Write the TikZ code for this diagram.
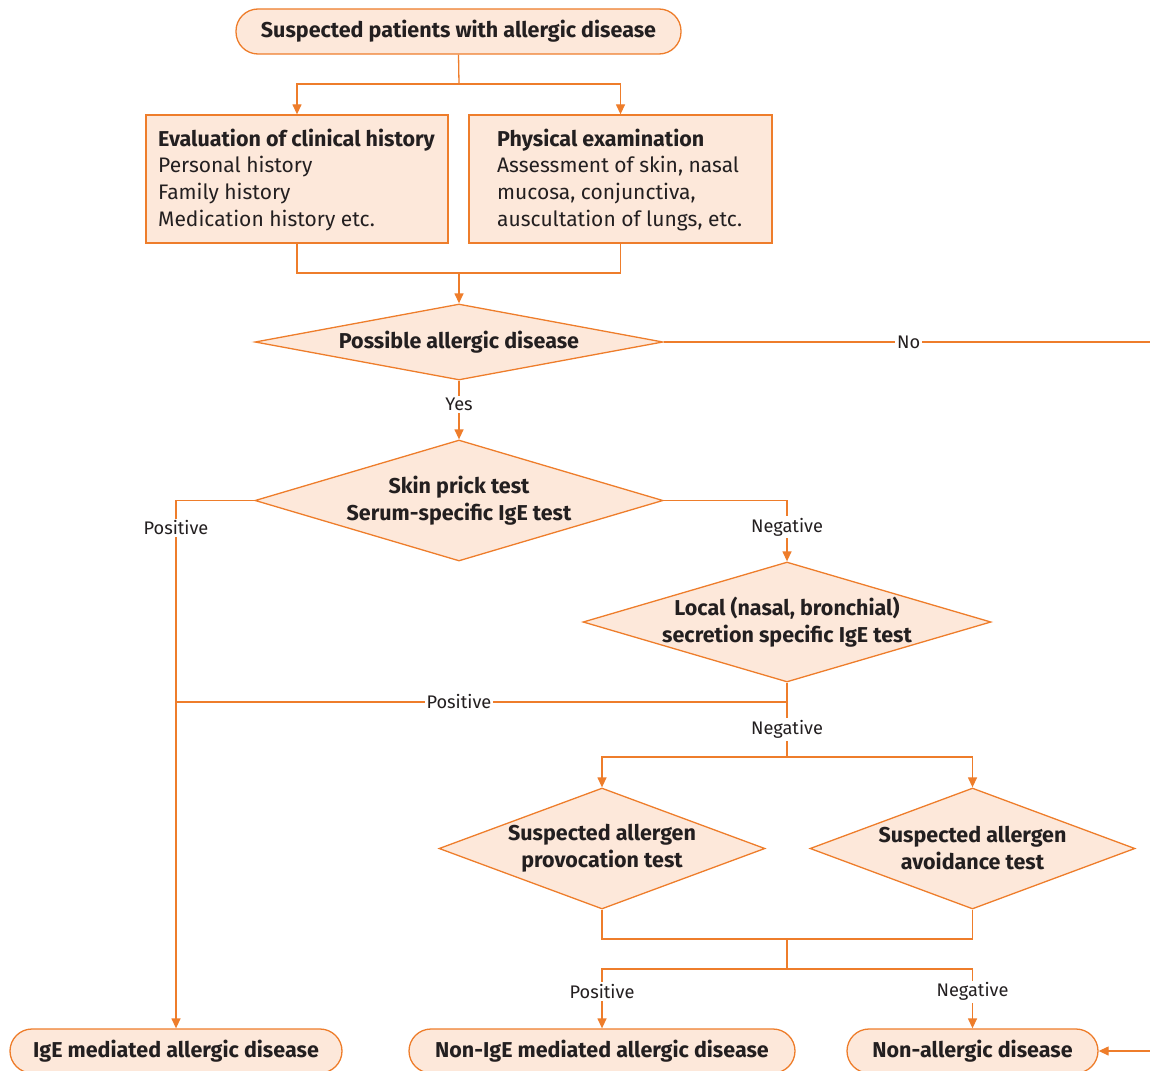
\documentclass[tikz,border=0pt]{standalone}
\usepackage{fontspec}
\setmainfont{Fira Sans}
\usetikzlibrary{shapes.geometric,arrows.meta}
\definecolor{ln}{HTML}{EE7D2B}
\definecolor{fl}{HTML}{FDE8DA}
\definecolor{tx}{HTML}{231F20}
\begin{document}
\begin{tikzpicture}[x=1pt,y=-1pt,
  every node/.style={text=tx},
  line/.style={draw=ln,line width=1.3pt},
  arr/.style={line,-{Triangle[length=10pt,width=9pt]}},
  term/.style={draw=ln,line width=1.3pt,fill=fl,rounded corners=22pt,inner sep=0pt,
    font=\fontsize{21.5}{26}\selectfont\bfseries},
  boxx/.style={draw=ln,line width=1.3pt,fill=fl,inner sep=0pt,minimum height=128pt},
  dia/.style={diamond,draw=ln,line width=1.3pt,fill=fl,inner sep=0pt},
  dtext/.style={align=center,font=\fontsize{21.5}{27}\selectfont\bfseries},
  btext/.style={align=left,anchor=north west,inner sep=0pt,font=\fontsize{21}{26.7}\selectfont},
  lbl/.style={fill=white,inner sep=2pt,font=\fontsize{18.2}{21}\selectfont}]
\useasboundingbox (0,0) rectangle (1150,1070);
% terminals
\node[term,minimum width=445pt,minimum height=45pt] (top) at (458.5,31.5) {Suspected patients with allergic disease};
\node[term,minimum width=332pt,minimum height=44pt] (ige) at (176,1051) {IgE mediated allergic disease};
\node[term,minimum width=386pt,minimum height=44pt] (nonige) at (602,1051) {Non-IgE mediated allergic disease};
\node[term,minimum width=251pt,minimum height=44pt] (nonall) at (972.5,1051) {Non-allergic disease};
% boxes
\node[boxx,minimum width=302pt] (b1) at (297,179) {};
\node[boxx,minimum width=303pt] (b2) at (620.5,179) {};
\node[btext] (t1) at (158,128.5) {\textbf{\fontsize{21.5}{26.7}\selectfont Evaluation of clinical history}\\Personal history\\Family history\\Medication history etc.};
\node[btext] (t2) at (497,128.5) {\textbf{\fontsize{21.5}{26.7}\selectfont Physical examination}\\Assessment of skin, nasal\\mucosa, conjunctiva,\\auscultation of lungs, etc.};
% diamonds
\node[dia,minimum width=408pt,minimum height=76pt] (d1) at (459,342) {};
\node[dtext] at (d1) {Possible allergic disease};
\node[dia,minimum width=408pt,minimum height=121pt] (d2) at (459,500.5) {};
\node[dtext] at (d2) {Skin prick test\\Serum-specific IgE test};
\node[dia,minimum width=408pt,minimum height=120pt] (d3) at (787,622) {};
\node[dtext] at (d3) {Local (nasal, bronchial)\\secretion specific IgE test};
\node[dia,minimum width=326pt,minimum height=121pt] (d4) at (602,848.5) {};
\node[dtext] at (d4) {Suspected allergen\\provocation test};
\node[dia,minimum width=325pt,minimum height=121pt] (d5) at (972.5,848.5) {};
\node[dtext] at (d5) {Suspected allergen\\avoidance test};
% connectors
\coordinate (j1) at (459,84);
\draw[line] (top.south) -- (j1);
\draw[arr] (j1) -| (b1.north);
\draw[arr] (j1) -| (b2.north);
\coordinate (j2) at (459,273);
\draw[line] (b1.south) |- (j2) -| (b2.south);
\draw[arr] (j2) -- (d1.north);
\coordinate (rr) at (1175,342);
\draw[arr] (d1.east) -- node[lbl,pos=0.479]{No} (rr) |- (nonall.east);
\draw[arr] (d1.south) -- node[lbl,pos=0.4]{Yes} (d2.north);
\draw[arr] (d2.west) -| node[lbl,pos=0.526]{Positive} (ige.north);
\draw[arr] (d2.east) -| node[lbl,pos=0.718]{Negative} (d3.north);
\coordinate (j3) at (787,702);
\coordinate (j3l) at (176,702);
\draw[line] (d3.south) -- (j3);
\draw[line] (j3) -- node[lbl,pos=0.537]{Positive} (j3l);
\coordinate (j4) at (787,757);
\draw[line] (j3) -- node[lbl,pos=0.5]{Negative} (j4);
\draw[arr] (j4) -| (d4.north);
\draw[arr] (j4) -| (d5.north);
\coordinate (j5) at (787,939);
\draw[line] (d4.south) |- (j5) -| (d5.south);
\coordinate (j6) at (787,969);
\draw[line] (j5) -- (j6);
\draw[arr] (j6) -| node[lbl,pos=0.69]{Positive} (nonige.north);
\draw[arr] (j6) -| node[lbl,pos=0.69]{Negative} (nonall.north);
\end{tikzpicture}
\end{document}
